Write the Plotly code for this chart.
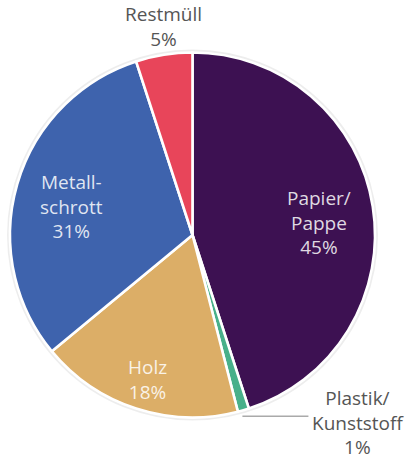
import math
import plotly.graph_objects as go

# Waste composition, clockwise from 12 o'clock
categories = ["Papier/Pappe", "Plastik/Kunststoff", "Holz", "Metallschrott", "Restmüll"]
label_lines = ["Papier/<br>Pappe", "Plastik/<br>Kunststoff", "Holz", "Metall-<br>schrott", "Restmüll"]
shares = [45, 1, 18, 31, 5]
colors = ["#3d1152", "#48b08a", "#dcae67", "#3e63ad", "#e8455a"]
outside = ["Restmüll", "Plastik/Kunststoff"]
# radial position of inside labels, as a fraction of the radius
label_radius = {"Papier/Pappe": 0.70, "Holz": 0.79, "Metallschrott": 0.69}

W, H = 406, 461
ML, MR, MT, MB = 10, 31, 52, 43
PW, PH = W - ML - MR, H - MT - MB
CX, CY = ML + PW / 2, MT + PH / 2
R = min(PW, PH) / 2
FS = 19


def px(x):
    return (x - ML) / PW


def py(y):
    return 1 - (y - MT) / PH


def mid_point(idx, r):
    total = sum(shares)
    start = sum(shares[:idx]) / total * 360
    mid = math.radians(start + shares[idx] / total * 180)
    return CX + r * math.sin(mid), CY - r * math.cos(mid)


fig = go.Figure(
    go.Pie(
        labels=categories,
        values=shares,
        sort=False,
        direction="clockwise",
        rotation=0,
        marker=dict(colors=colors, line=dict(color="white", width=2.6)),
        textinfo="none",
        hoverinfo="label+percent",
        showlegend=False,
        domain=dict(x=[0, 1], y=[0, 1]),
    )
)

# soft halo around the pie
fig.add_shape(
    type="circle", xref="paper", yref="paper",
    x0=px(CX - R - 1.5), x1=px(CX + R + 1.5), y0=py(CY + R + 1.5), y1=py(CY - R - 1.5),
    line=dict(color="rgba(0,0,0,0.07)", width=3), layer="below",
)

annotations = []
in_font = dict(family="Open Sans", size=FS, color="rgba(255,255,255,0.85)")
out_font = dict(family="Open Sans", size=FS, color="#555555")

# labels inside the larger slices
for i, cat in enumerate(categories):
    if cat in outside:
        continue
    tx, ty = mid_point(i, R * label_radius[cat])
    annotations.append(dict(
        x=px(tx), y=py(ty), xref="paper", yref="paper", yshift=-7,
        text=f"{label_lines[i]}<br>{shares[i]}%", showarrow=False,
        xanchor="center", yanchor="middle", align="center", font=in_font,
    ))

# Restmüll: label straight above its slice
i = categories.index("Restmüll")
ex, ey = mid_point(i, R)
annotations.append(dict(
    x=px(ex), y=py(ey - 1), xref="paper", yref="paper",
    text=f"{label_lines[i]}<br>{shares[i]}%", showarrow=False,
    xanchor="center", yanchor="bottom", align="center", font=out_font,
))

# Plastik/Kunststoff: leader line to the right
i = categories.index("Plastik/Kunststoff")
ex, ey = mid_point(i, R)
ly = ey + 6
lx1 = ex + 65
fig.add_shape(
    type="line", xref="paper", yref="paper",
    x0=px(ex - 1), x1=px(lx1), y0=py(ly), y1=py(ly),
    line=dict(color="#aaaaaa", width=1.5),
)
annotations.append(dict(
    x=px(lx1 + 50), y=py(ly + 6), xref="paper", yref="paper",
    text=f"{label_lines[i]}<br>{shares[i]}%", showarrow=False, borderpad=0,
    xanchor="center", yanchor="middle", align="center", font=out_font,
))

fig.update_layout(
    width=W, height=H,
    margin=dict(l=ML, r=MR, t=MT, b=MB),
    paper_bgcolor="white", plot_bgcolor="white",
    font=dict(family="Open Sans"),
    annotations=annotations,
)

fig.write_html("out.html")
